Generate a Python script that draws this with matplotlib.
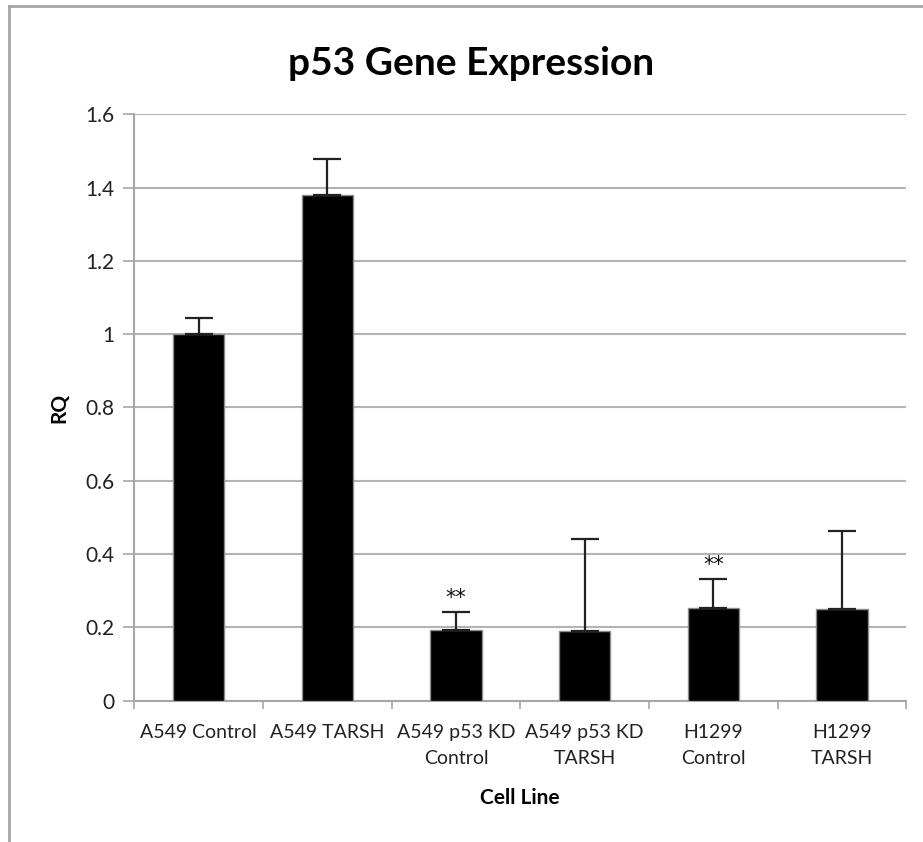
import numpy as np
import matplotlib
matplotlib.use("Agg")
import matplotlib.pyplot as plt
from matplotlib.lines import Line2D

# data
cell_lines = ["A549 Control", "A549 TARSH", "A549 p53 KD\nControl",
              "A549 p53 KD\nTARSH", "H1299\nControl", "H1299\nTARSH"]
rq = [1.0, 1.381, 0.194, 0.190, 0.252, 0.249]
rq_err = [0.045, 0.096, 0.047, 0.250, 0.079, 0.213]
stars = ["", "", "**", "", "**", ""]
y_ticks = [0, 0.2, 0.4, 0.6, 0.8, 1.0, 1.2, 1.4, 1.6]
y_tick_labels = ["0", "0.2", "0.4", "0.6", "0.8", "1", "1.2", "1.4", "1.6"]

plt.rcParams['font.family'] = ['Lato', 'DejaVu Sans']

fig = plt.figure(figsize=(9.23, 8.42), dpi=100)
ax = fig.add_axes([0.1454, 0.1678, 0.8366, 0.6965])

x = np.arange(len(cell_lines))
ax.bar(x, rq, width=0.4, color='black', edgecolor='#8c8c8c', linewidth=1, zorder=3)
ax.errorbar(x, rq, yerr=[np.zeros(len(rq)), rq_err], fmt='none',
            ecolor='#222222', elinewidth=1.6, capsize=10, capthick=1.6, zorder=4)

# significance marks above the error bars
for i, s in enumerate(stars):
    if s:
        ax.text(x[i], rq[i] + rq_err[i] + 0.04, s, ha='center', va='center',
                fontsize=15, color='#111111', family='DejaVu Sans')

ax.set_xlim(-0.5, len(cell_lines) - 0.5)
ax.set_ylim(0, 1.6)
ax.set_yticks(y_ticks)
ax.set_yticklabels(y_tick_labels)
ax.yaxis.grid(True, color='#b3b3b3', linewidth=1.5, zorder=0)
ax.set_axisbelow(True)

# category labels centred, ticks on category boundaries
ax.set_xticks(x)
ax.set_xticklabels(cell_lines)
ax.set_xticks(np.arange(-0.5, len(cell_lines)), minor=True)
ax.tick_params(axis='x', which='major', length=0, pad=17, labelsize=14,
               labelcolor='#222222')
ax.tick_params(axis='x', which='minor', length=6, width=1.2, color='#a6a6a6')
ax.tick_params(axis='y', length=8, width=1.2, color='#a6a6a6', pad=6,
               labelsize=15, labelcolor='#222222')
for lbl in ax.get_xticklabels():
    lbl.set_linespacing(1.65)

for side in ['top', 'right']:
    ax.spines[side].set_visible(False)
for side in ['left', 'bottom']:
    ax.spines[side].set_color('#a6a6a6')
    ax.spines[side].set_linewidth(1.5)

ax.set_xlabel("Cell Line", fontsize=15, fontweight='bold', labelpad=15)
ax.set_ylabel("RQ", fontsize=15, fontweight='bold', labelpad=12)

fig.text(0.51, 0.925, "p53 Gene Expression", ha='center', va='center',
         fontsize=28, fontweight='bold')

# chart area border (left and top visible in the crop)
fig.add_artist(Line2D([9 / 923, 9 / 923], [0, 1 - 6 / 842], color='#a6a6a6', linewidth=2))
fig.add_artist(Line2D([9 / 923, 1], [1 - 6 / 842, 1 - 6 / 842], color='#a6a6a6', linewidth=2))

fig.savefig("out.png", dpi=100)
